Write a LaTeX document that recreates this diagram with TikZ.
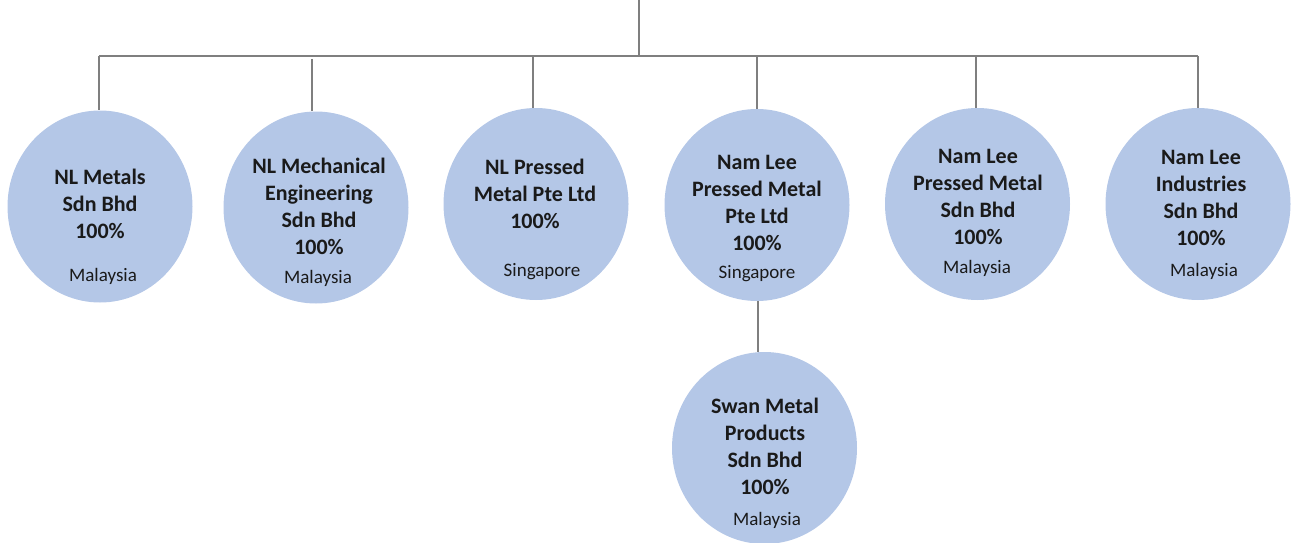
\documentclass[tikz,border=0pt]{standalone}
\usepackage{fontspec}
\setmainfont{Carlito}
\usetikzlibrary{shapes.geometric}
\definecolor{circfill}{HTML}{B4C7E7}
\definecolor{linegray}{HTML}{7F7F7F}
\definecolor{txt}{HTML}{1A1A1A}
\begin{document}
\begin{tikzpicture}[x=1pt,y=-1pt,
  ent/.style={ellipse, fill=circfill, minimum width=185pt, minimum height=192pt, inner sep=0pt},
  entname/.style={font=\fontsize{22}{27}\selectfont\bfseries, align=center, inner sep=0pt, text=txt},
  ctry/.style={font=\fontsize{19}{22}\selectfont, inner sep=0pt, text=txt},
  conn/.style={draw=linegray, line width=2pt}]
\useasboundingbox (0,0) rectangle (1291,543);

% bus coordinates
\coordinate (top) at (639,0);
\coordinate (busmid) at (639,56);
\coordinate (busL) at (99,56);
\coordinate (busR) at (1198,56);
\coordinate (b1) at (99,56);
\coordinate (b2) at (312,59);
\coordinate (b3) at (533,56);
\coordinate (b4) at (757,56);
\coordinate (b5) at (976,56);
\coordinate (b6) at (1198,56);

% circles
\node[ent] (c1) at (100,206.5) {};
\node[ent] (c2) at (316,207.5) {};
\node[ent] (c3) at (536,204) {};
\node[ent] (c4) at (757,205) {};
\node[ent] (c5) at (977.5,204) {};
\node[ent] (c6) at (1198,204) {};
\node[ent] (c7) at (764.5,448) {};

% connectors
\draw[conn] (top) -- (busmid);
\draw[conn] (busL) -- (busR);
\draw[conn] (b1) -- (b1 |- c1.north);
\draw[conn] (b2) -- (b2 |- c2.north);
\draw[conn] (b3) -- (b3 |- c3.north);
\draw[conn] (b4) -- (b4 |- c4.north);
\draw[conn] (b5) -- (b5 |- c5.north);
\draw[conn] (b6) -- (b6 |- c6.north);
\draw[conn] (c4.south -| 758,0) -- (c7.north -| 758,0);

% labels
\node[entname] (n1) at (100,204) {NL Metals\\Sdn Bhd\\100\%};
\node[ctry] (k1) at (103,276) {Malaysia};
\node[entname] (n2) at (319,206) {NL Mechanical\\Engineering\\Sdn Bhd\\100\%};
\node[ctry] (k2) at (318,278) {Malaysia};
\node[entname] (n3) at (535,194) {NL Pressed\\Metal Pte Ltd\\100\%};
\node[ctry] (k3) at (542,272) {Singapore};
\node[entname] (n4) at (757,203) {Nam Lee\\Pressed Metal\\Pte Ltd\\100\%};
\node[ctry] (k4) at (757,274) {Singapore};
\node[entname] (n5) at (978,197) {Nam Lee\\Pressed Metal\\Sdn Bhd\\100\%};
\node[ctry] (k5) at (977,268) {Malaysia};
\node[entname] (n6) at (1201,197.5) {Nam Lee\\Industries\\Sdn Bhd\\100\%};
\node[ctry] (k6) at (1204,271) {Malaysia};
\node[entname] (n7) at (765,446) {Swan Metal\\Products\\Sdn Bhd\\100\%};
\node[ctry] (k7) at (767,520) {Malaysia};
\end{tikzpicture}
\end{document}
